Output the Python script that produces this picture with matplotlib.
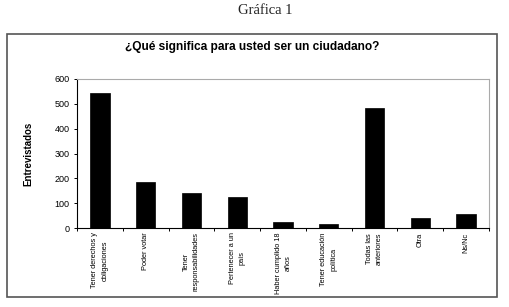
import matplotlib
matplotlib.use("Agg")
import matplotlib.pyplot as plt
from matplotlib.patches import Rectangle

categories = ["Tener derechos y\nobligaciones", "Poder votar", "Tener\nresponsabilidades",
              "Pertenecer a un\npaís", "Haber cumplido 18\naños", "Tener educación\npolítica",
              "Todas las\nanteriores", "Otra", "Ns/Nc"]
values = [545, 186, 142, 126, 23, 17, 484, 39, 55]
yticks = [0, 100, 200, 300, 400, 500, 600]

W, H = 509, 307
fig = plt.figure(figsize=(W/100, H/100), dpi=100)
fig.patch.set_facecolor("white")

# outer frame
fig.patches.append(Rectangle((7/W, 1-297/H), (497-7)/W, (297-34)/H, transform=fig.transFigure,
                             fill=False, edgecolor="#555555", linewidth=1.2))

fig.text(265/W, 1-10/H, "Gráfica 1", ha="center", va="center", fontsize=10.5,
         family="Liberation Serif", color="#222222")
fig.text(252/W, 1-47/H, "¿Qué significa para usted ser un ciudadano?", ha="center", va="center",
         fontsize=8.6, fontweight="bold", family="Liberation Sans")

ax = fig.add_axes([77/W, 1-228/H, (489-77)/W, (228-79)/H])
x = list(range(len(categories)))
ax.bar(x, values, width=0.42, color="black", edgecolor="black", linewidth=0.5)
ax.set_xlim(-0.5, len(categories)-0.5)
ax.set_ylim(0, 600)
ax.set_yticks(yticks)
ax.set_yticklabels([str(v) for v in yticks], fontsize=6.5, family="Liberation Sans")
ax.set_xticks([i + 0.5 for i in x[:-1]] + [-0.5, len(categories)-0.5])
ax.set_xticklabels([])
ax.tick_params(axis="x", direction="out", length=2.5, width=0.7)
ax.tick_params(axis="y", direction="out", length=2.5, width=0.7, pad=3)
for i, lab in enumerate(categories):
    ax.text(i, -18, lab, rotation=90, ha="center", va="top", fontsize=5.3,
            family="Liberation Sans", multialignment="center", linespacing=1.6,
            transform=ax.transData)
for s in ["top", "right"]:
    ax.spines[s].set_color("#aaaaaa")
    ax.spines[s].set_linewidth(0.8)
for s in ["left", "bottom"]:
    ax.spines[s].set_color("black")
    ax.spines[s].set_linewidth(0.8)
ax.set_ylabel("Entrevistados", fontsize=7, fontweight="bold", family="Liberation Sans")
ax.yaxis.set_label_coords(-(77-33)/(489-77), 0.5)

fig.savefig("out.png", dpi=100)
